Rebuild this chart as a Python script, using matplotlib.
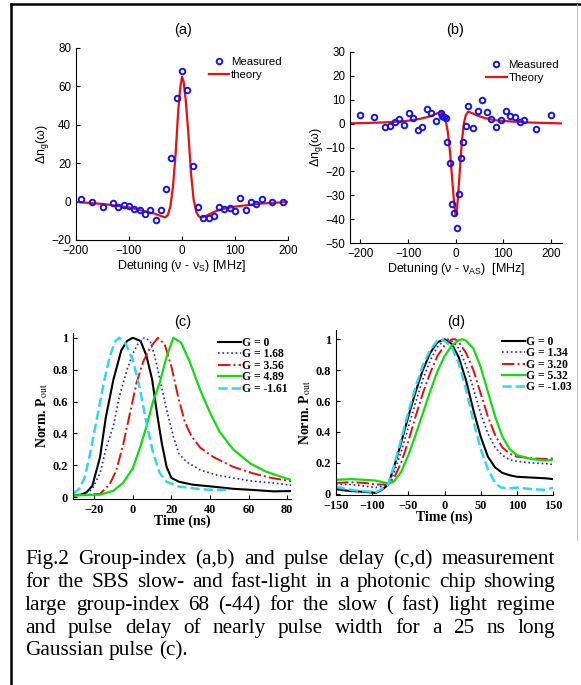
import matplotlib
matplotlib.use("Agg")
import matplotlib.pyplot as plt
from matplotlib.lines import Line2D

SANS = "Liberation Sans"
SERIF = "Liberation Serif"

# ---- (a) Stokes side: group index change ----
A_MEAS_X = [-190, -170, -150, -130, -120, -110, -100, -90, -80, -70, -60, -50, -40, -30,
            -20, -10, 0, 10, 20, 30, 40, 50, 60, 70, 80, 90, 100, 110, 120, 130, 140, 150,
            170, 190]
A_MEAS_Y = [1.6, -0.2, -3.0, -0.9, -2.6, -1.7, -2.1, -3.8, -4.3, -6.4, -4.3, -9.6, -4.5, 6.8,
            22.8, 54.0, 68.0, 58.0, 18.3, -2.6, -8.7, -8.5, -7.5, -2.6, -3.7, -3.3, -4.7, 1.9,
            -4.3, -0.2, -1.2, 1.2, -0.2, -0.2]
A_TH_X = [-200, -150, -100, -75, -50, -40, -32, -27, -22, -17, -12, -7, -3, 0, 3, 7, 12, 17,
          22, 27, 32, 38, 45, 55, 70, 100, 150, 200]
A_TH_Y = [-0.2, -1.2, -3.0, -4.7, -6.4, -7.5, -8.2, -7.1, -2.6, 7.8, 25.0, 48.0, 60.0, 65.0,
          62.6, 53.0, 35.6, 14.8, 0.9, -5.4, -7.8, -8.2, -7.5, -6.1, -4.3, -2.6, -1.0, -0.2]

# ---- (b) anti-Stokes side ----
B_MEAS_X = [-200, -172, -148, -138, -128, -119, -109, -99, -89, -80, -70, -61, -51, -41, -31,
            -28, -24, -21, -18, -12, -8, -4, 2, 7, 12, 16, 21, 26, 36, 46, 56, 65, 75, 85,
            95, 105, 114, 124, 134, 144, 168, 200]
B_MEAS_Y = [3.6, 2.8, -1.5, -1.0, 0.7, 2.1, -0.4, 4.3, 2.4, -2.5, -1.4, 6.1, 4.5, 1.2, 4.5,
            3.0, 2.7, 2.4, -7.6, -16.6, -33.8, -37.6, -43.9, -29.3, -14.5, -7.8, -1.0, 7.5,
            -2.0, 5.3, 9.9, 4.7, 2.0, -1.4, 1.4, 5.4, 3.2, 2.8, 0.8, 1.5, -2.1, 3.5]
B_TH_X = [-225, -200, -150, -100, -75, -55, -40, -32, -27, -22, -17, -12, -8, -4, -1, 0, 2, 5,
          9, 13, 17, 21, 26, 32, 45, 60, 80, 100, 150, 200, 225]
B_TH_Y = [0.1, 0.2, 0.5, 1.2, 2.0, 3.0, 4.2, 5.0, 4.5, 2.0, -3.0, -12.0, -22.0, -32.0, -37.5,
          -38.5, -37.0, -30.0, -18.0, -7.0, 0.0, 3.5, 5.0, 4.6, 3.4, 2.4, 1.5, 1.1, 0.5, 0.2,
          0.1]

# ---- (c) slow-light pulse delay ----
C_LABELS = ["G = 0", "G = 1.68", "G = 3.56", "G = 4.89", "G = -1.61"]
C_T0 = [-31, -27, -24, -21, -17, -14, -10, -6, -3, 0, 4, 7, 10, 12.5, 15, 17.5, 20, 24, 31,
        42, 52, 62, 73, 82]
C_Y0 = [0.01, 0.015, 0.03, 0.07, 0.25, 0.50, 0.74, 0.92, 0.98, 1.0, 0.98, 0.89, 0.74, 0.53,
        0.34, 0.19, 0.12, 0.096, 0.078, 0.065, 0.052, 0.045, 0.036, 0.038]
C_T1 = [-31, -25, -21, -17, -14, -10, -7, -3, 0, 3, 6, 9, 11.5, 14, 17.5, 21, 24, 28, 35, 43,
        52, 62, 72, 82]
C_Y1 = [0.01, 0.02, 0.05, 0.15, 0.30, 0.45, 0.63, 0.80, 0.90, 0.97, 1.0, 0.98, 0.88, 0.74,
        0.55, 0.38, 0.27, 0.22, 0.17, 0.14, 0.12, 0.10, 0.09, 0.075]
C_T2 = [-31, -17, -12, -8.5, -5, -1.6, 2, 5.4, 9, 13, 16.5, 20, 23.5, 27, 30.5, 35, 42, 52,
        62, 72, 82]
C_Y2 = [0.01, 0.02, 0.08, 0.17, 0.33, 0.52, 0.72, 0.85, 0.94, 1.0, 0.96, 0.82, 0.63, 0.47,
        0.38, 0.31, 0.25, 0.19, 0.15, 0.12, 0.10]
C_T3 = [-31, -17, -10, -5, 0, 4, 7, 10.5, 14, 17.5, 21, 25, 29.5, 35, 40, 45, 52, 61, 69, 82]
C_Y3 = [0.01, 0.015, 0.04, 0.09, 0.18, 0.32, 0.44, 0.60, 0.72, 0.88, 1.0, 0.97, 0.85, 0.67,
        0.53, 0.41, 0.30, 0.21, 0.16, 0.107]
C_T4 = [-31, -28, -25, -22, -18.5, -15, -12, -9, -7, -4, 0, 3.5, 7, 10.5, 14, 17.5, 24, 35,
        43, 49]
C_Y4 = [0.02, 0.05, 0.12, 0.28, 0.50, 0.72, 0.88, 0.98, 1.0, 0.97, 0.86, 0.69, 0.47, 0.28,
        0.15, 0.096, 0.066, 0.05, 0.044, 0.045]

# ---- (d) fast/slow pulses, long pulse ----
D_LABELS = ["G = 0", "G = 1.34", "G = 3.20", "G = 5.32", "G = -1.03"]
D_T0 = [-150, -135, -120, -105, -95, -85, -78, -70, -60, -50, -40, -30, -20, -10, 0, 10, 20,
        30, 40, 50, 60, 70, 80, 90, 100, 120, 140, 150]
D_Y0 = [0.03, 0.02, 0.015, 0.01, 0.005, 0.03, 0.06, 0.17, 0.33, 0.50, 0.66, 0.80, 0.91, 0.98,
        1.0, 0.97, 0.88, 0.73, 0.54, 0.37, 0.24, 0.17, 0.135, 0.12, 0.11, 0.105, 0.10, 0.095]
D_T1 = [-150, -130, -110, -95, -85, -78, -70, -60, -50, -40, -30, -20, -10, 0, 5, 10, 20, 30,
        40, 50, 60, 70, 80, 90, 100, 120, 140, 150]
D_Y1 = [0.06, 0.06, 0.05, 0.04, 0.05, 0.06, 0.13, 0.27, 0.43, 0.59, 0.74, 0.86, 0.95, 0.995,
        1.0, 0.99, 0.94, 0.83, 0.68, 0.52, 0.39, 0.30, 0.25, 0.22, 0.21, 0.20, 0.195, 0.19]
D_T2 = [-150, -130, -110, -95, -85, -78, -70, -60, -50, -40, -30, -20, -10, 0, 10, 15, 20,
        30, 40, 50, 60, 70, 80, 90, 100, 120, 140, 150]
D_Y2 = [0.07, 0.075, 0.07, 0.06, 0.06, 0.065, 0.10, 0.20, 0.34, 0.50, 0.65, 0.78, 0.89,
        0.96, 1.0, 1.0, 0.98, 0.91, 0.80, 0.65, 0.50, 0.38, 0.30, 0.26, 0.24, 0.23, 0.225,
        0.23]
D_T3 = [-150, -130, -110, -95, -85, -78, -70, -60, -50, -40, -30, -20, -10, 0, 10, 20, 25,
        30, 40, 50, 60, 70, 80, 90, 100, 120, 140, 150]
D_Y3 = [0.09, 0.095, 0.09, 0.085, 0.075, 0.065, 0.08, 0.14, 0.25, 0.38, 0.52, 0.66, 0.79,
        0.89, 0.96, 0.995, 1.0, 0.99, 0.94, 0.82, 0.66, 0.50, 0.37, 0.29, 0.25, 0.225, 0.215,
        0.22]
D_T4 = [-150, -135, -120, -105, -95, -85, -78, -70, -60, -50, -40, -30, -20, -10, -5, 0, 10,
        20, 30, 40, 50, 60, 70, 78, 90, 100, 120, 140, 150]
D_Y4 = [0.045, 0.03, 0.02, 0.015, 0.01, 0.035, 0.06, 0.18, 0.35, 0.53, 0.69, 0.83, 0.93,
        0.99, 1.0, 0.99, 0.95, 0.84, 0.67, 0.47, 0.29, 0.16, 0.07, 0.04, 0.035, 0.04, 0.03,
        0.025, 0.04]

CAPTION = [
    "Fig.2 Group-index (a,b) and pulse delay (c,d) measurement",
    "for the SBS slow- and fast-light in a photonic chip showing",
    "large group-index 68 (-44) for the slow ( fast) light regime",
    "and pulse delay of nearly pulse width for a 25 ns long",
    "Gaussian pulse (c).",
]

PULSE_STYLES = [
    dict(color="black", linestyle="-", linewidth=1.5),
    dict(color="#2020ff", linestyle=":", linewidth=1.2),
    dict(color="#e01010", linestyle="-.", linewidth=1.4),
    dict(color="#10dd10", linestyle="-", linewidth=1.6),
    dict(color="#30d8f0", linestyle="--", linewidth=1.8),
]

plt.rcParams.update({
    "mathtext.fontset": "custom",
    "mathtext.rm": SANS,
    "mathtext.it": SANS + ":italic",
    "axes.linewidth": 0.8,
    "xtick.direction": "in",
    "ytick.direction": "in",
    "xtick.major.size": 3,
    "ytick.major.size": 3,
})

W, H = 581, 685
fig = plt.figure(figsize=(W / 100, H / 100), dpi=100)


def px_axes(left, top, right, bottom):
    return fig.add_axes([left / W, 1 - bottom / H, (right - left) / W, (bottom - top) / H])


def box_off(ax):
    ax.spines["top"].set_visible(False)
    ax.spines["right"].set_visible(False)


def spectrum_panel(ax, mx, my, tx, ty, th_label, xlim, ylim, yticks, xlabel, anchor):
    ax.plot(tx, ty, color="#e81010", linewidth=1.6, label=th_label, zorder=2)
    ax.plot(mx, my, linestyle="none", marker="o", markersize=4, markerfacecolor="none",
            markeredgecolor="#1414f0", markeredgewidth=1.4, label="Measured", zorder=3)
    ax.set_xlim(*xlim)
    ax.set_ylim(*ylim)
    ax.set_xticks([-200, -100, 0, 100, 200])
    ax.set_yticks(yticks)
    box_off(ax)
    for lab in ax.get_xticklabels() + ax.get_yticklabels():
        lab.set_family(SANS)
        lab.set_fontsize(8.4)
    ax.set_xlabel(xlabel, family=SANS, fontsize=9, labelpad=1)
    ax.set_ylabel(r"$\Delta$n$_\mathrm{g}$(ω)", family=SANS, fontsize=9, labelpad=0)
    h, l = ax.get_legend_handles_labels()
    ax.legend(h[::-1], l[::-1], loc="upper left", bbox_to_anchor=anchor, frameon=False,
              prop={"family": SANS, "size": 8.2}, borderpad=0, borderaxespad=0,
              handlelength=1.8, handletextpad=0.15, labelspacing=0.3, numpoints=1)


def pulse_panel(ax, curves, labels, xlim, ylim, xticks, anchor):
    for (t, y), lab, st in zip(curves, labels, PULSE_STYLES):
        ax.plot(t, y, label=lab, **st)
    ax.set_xlim(*xlim)
    ax.set_ylim(*ylim)
    ax.set_xticks(xticks)
    ax.set_yticks([0, 0.2, 0.4, 0.6, 0.8, 1])
    ax.set_yticklabels(["0", "0.2", "0.4", "0.6", "0.8", "1"])
    box_off(ax)
    for lab in ax.get_xticklabels() + ax.get_yticklabels():
        lab.set_family(SERIF)
        lab.set_fontweight("bold")
        lab.set_fontsize(8.8)
    ax.set_xlabel("Time (ns)", family=SERIF, fontweight="bold", fontsize=10, labelpad=-1)
    ax.set_ylabel(r"Norm. P$_\mathrm{out}$", family=SERIF, fontweight="bold", fontsize=10,
                  labelpad=2, math_fontfamily="stix")
    ax.legend(loc="upper left", bbox_to_anchor=anchor, frameon=False,
              prop={"family": SERIF, "weight": "bold", "size": 8.4}, borderpad=0,
              borderaxespad=0, handlelength=2.0, handletextpad=0.1, labelspacing=-0.05)


ax_a = px_axes(76, 48, 288, 240)
spectrum_panel(ax_a, A_MEAS_X, A_MEAS_Y, A_TH_X, A_TH_Y, "theory", (-200, 200), (-20, 80),
               [-20, 0, 20, 40, 60, 80], r"Detuning (ν - ν$_\mathrm{S}$) [MHz]",
               (0.627, 0.955))

ax_b = px_axes(350, 52, 562, 243)
spectrum_panel(ax_b, B_MEAS_X, B_MEAS_Y, B_TH_X, B_TH_Y, "Theory", (-222, 223), (-50, 30),
               [-50, -40, -30, -20, -10, 0, 10, 20, 30],
               r"Detuning (ν - ν$_\mathrm{AS}$)  [MHz]", (0.642, 0.96))

ax_c = px_axes(73, 333, 291, 499)
pulse_panel(ax_c, [(C_T0, C_Y0), (C_T1, C_Y1), (C_T2, C_Y2), (C_T3, C_Y3), (C_T4, C_Y4)],
            C_LABELS, (-31, 82), (-0.012, 1.03), [-20, 0, 20, 40, 60, 80], (0.665, 0.976))

ax_d = px_axes(336, 330, 553, 495)
pulse_panel(ax_d, [(D_T0, D_Y0), (D_T1, D_Y1), (D_T2, D_Y2), (D_T3, D_Y3), (D_T4, D_Y4)],
            D_LABELS, (-150, 150), (-0.008, 1.06), [-150, -100, -50, 0, 50, 100, 150],
            (0.764, 0.965))

for label, (cx, cy) in zip(["(a)", "(b)", "(c)", "(d)"],
                           [(183, 30), (455, 30), (183, 322), (456, 322)]):
    fig.text(cx / W, 1 - cy / H, label, family=SANS, fontsize=10.5, ha="center", va="center")

# frame around figure + caption
fig.add_artist(Line2D([11 / W, 11 / W], [0, 1 - 4 / H], color="black", linewidth=1.8,
                      solid_capstyle="projecting"))
fig.add_artist(Line2D([11 / W, 1], [1 - 4 / H, 1 - 4 / H], color="black", linewidth=1.8,
                      solid_capstyle="projecting"))
fig.add_artist(Line2D([577 / W, 577 / W], [1 - 540 / H, 1 - 4 / H], color="#b0b0b0",
                      linewidth=0.6))

# justified caption
fig.canvas.draw()
renderer = fig.canvas.get_renderer()
cap_left, cap_right = 25, 555
cap_size = 15.3
for i, (line, yb) in enumerate(zip(CAPTION, [564, 587, 610, 633, 655])):
    words = line.split(" ")
    texts = [fig.text(0, 1 - yb / H, w, family=SERIF, fontsize=cap_size, va="baseline")
             for w in words]
    widths = [t.get_window_extent(renderer).width for t in texts]
    if i == len(CAPTION) - 1:
        gap = 0.25 * cap_size * 100 / 72
    else:
        gap = (cap_right - cap_left - sum(widths)) / (len(words) - 1)
    x = cap_left
    for t, w in zip(texts, widths):
        t.set_x(x / W)
        x += w + gap

fig.savefig("out.png", dpi=100)
